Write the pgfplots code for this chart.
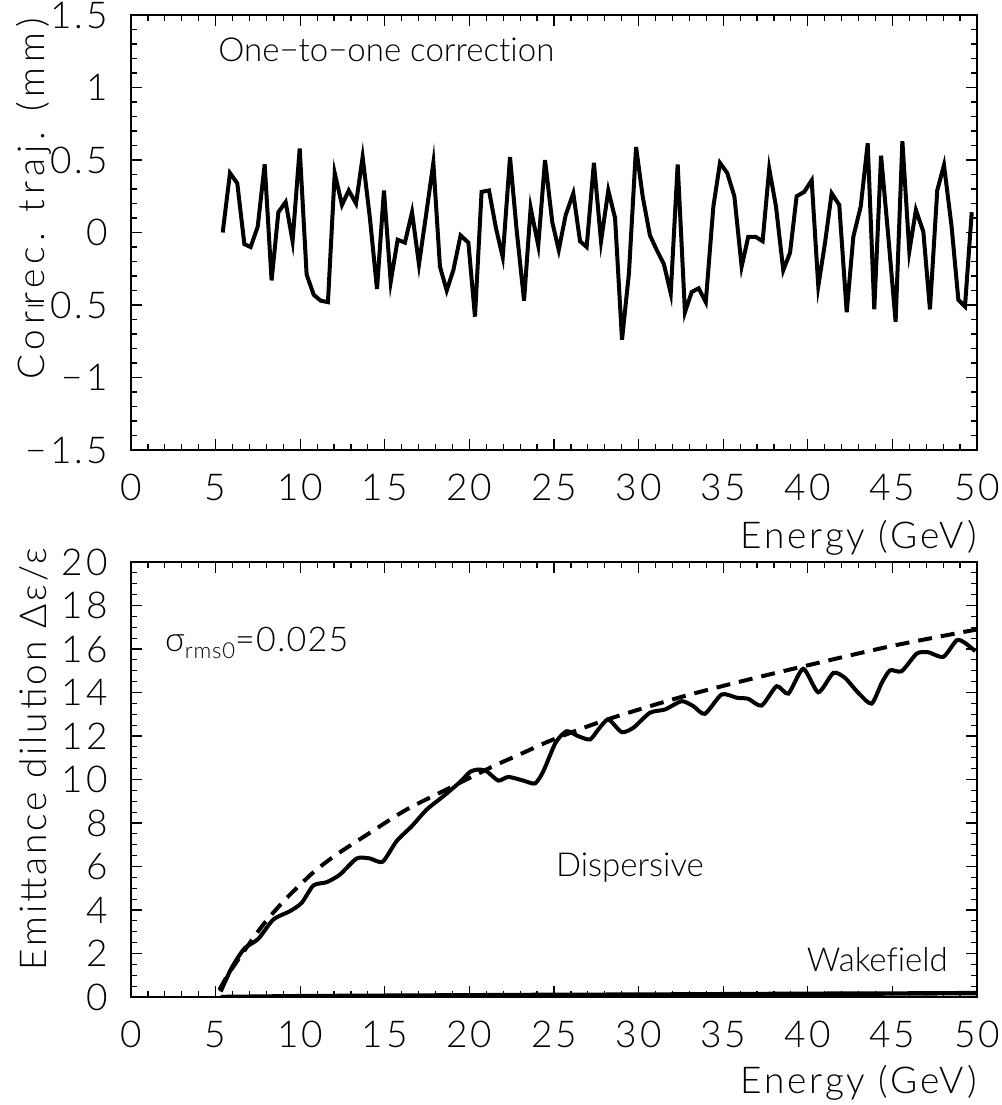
\documentclass[border=0pt]{standalone}
\usepackage{fontspec}
\IfFontExistsTF{Lato Light}{%
  \setmainfont{Lato Light}[Ligatures=NoCommon]%
  \newfontfamily\lab{Lato Light}[LetterSpace=8]%
  \newfontfamily\labw{Lato Light}[LetterSpace=14]%
  \newfontfamily\ann{Lato Light}[LetterSpace=4]%
}{%
  \setmainfont{Lato}[Ligatures=NoCommon]%
  \newfontfamily\lab{Lato}[LetterSpace=8]%
  \newfontfamily\labw{Lato}[LetterSpace=14]%
  \newfontfamily\ann{Lato}[LetterSpace=4]%
}
\usepackage{pgfplots}
\usepackage{pgfplotstable}
\pgfplotsset{compat=1.18}

\pgfplotstableread{
x y
5.42 0.00
5.85 0.41
6.28 0.34
6.70 -0.08
7.07 -0.10
7.49 0.04
7.90 0.47
8.31 -0.33
8.71 0.14
9.14 0.21
9.55 -0.06
9.97 0.58
10.38 -0.29
10.80 -0.43
11.21 -0.47
11.64 -0.48
12.04 0.41
12.47 0.19
12.87 0.29
13.30 0.20
13.69 0.52
14.12 0.10
14.54 -0.39
14.95 0.29
15.35 -0.34
15.76 -0.05
16.19 -0.07
16.61 0.14
17.02 -0.22
17.45 0.13
17.87 0.48
18.26 -0.235
18.66 -0.40
19.05 -0.26
19.48 -0.02
19.94 -0.07
20.33 -0.58
20.72 0.28
21.16 0.29
21.57 0.03
21.97 -0.17
22.40 0.52
22.79 0.02
23.23 -0.47
23.62 0.17
24.07 -0.09
24.47 0.50
24.90 0.07
25.28 -0.12
25.69 0.12
26.14 0.27
26.54 -0.06
26.93 -0.10
27.36 0.48
27.78 -0.06
28.21 0.29
28.61 0.10
29.02 -0.74
29.43 -0.28
29.85 0.59
30.24 0.25
30.67 -0.02
31.07 -0.12
31.50 -0.22
31.90 -0.42
32.31 0.47
32.74 -0.55
33.14 -0.41
33.55 -0.385
33.97 -0.48
34.42 0.18
34.81 0.48
35.24 0.41
35.66 0.25
36.09 -0.235
36.48 -0.03
36.92 -0.03
37.33 -0.06
37.72 0.44
38.12 0.18
38.55 -0.26
38.95 -0.14
39.34 0.25
39.79 0.28
40.23 0.36
40.62 -0.37
41.02 -0.07
41.41 0.27
41.86 0.19
42.30 -0.55
42.69 -0.03
43.13 0.18
43.54 0.615
43.93 -0.53
44.33 0.53
44.76 -0.03
45.19 -0.615
45.59 0.63
46.00 -0.13
46.39 0.155
46.83 0.005
47.22 -0.53
47.65 0.29
48.05 0.465
48.50 0.04
48.90 -0.465
49.29 -0.51
49.69 0.14
}\correc

\pgfplotstableread{
x y
5.22 0.32
5.85 1.17
7.43 2.93
8.21 3.70
9.20 4.55
10.18 5.30
10.97 5.86
12.15 6.55
14.12 7.55
16.29 8.62
18.85 9.62
21.22 10.54
23.19 11.23
24.96 11.84
28.11 12.75
32.45 13.78
36.00 14.50
39.73 15.20
44.85 16.12
50.00 16.90
}\dispfit

\pgfplotstableread{
x y
5.30 0.25
5.85 1.19
6.24 1.72
6.74 2.26
7.52 2.67
8.41 3.56
9.40 3.95
10.09 4.33
10.78 5.13
11.57 5.28
12.35 5.63
13.34 6.37
14.12 6.37
14.87 6.22
15.70 7.17
16.59 7.85
17.48 8.62
18.46 9.23
19.44 9.88
20.04 10.35
20.53 10.46
21.02 10.38
21.71 9.95
22.30 10.12
23.19 9.95
23.88 9.82
24.37 10.38
25.10 11.70
25.75 12.22
26.44 11.99
27.13 11.84
27.62 12.30
28.21 12.76
29.00 12.18
29.69 12.38
30.67 13.07
31.56 13.22
32.55 13.60
33.24 13.37
33.92 13.02
34.91 13.91
35.80 13.76
36.48 13.71
37.27 13.40
38.16 14.29
38.85 13.95
39.73 15.09
40.62 14.01
41.51 14.90
42.20 14.67
42.99 13.98
43.77 13.49
44.37 14.44
44.86 15.02
45.55 14.98
46.44 15.79
47.12 15.85
48.01 15.64
48.80 16.40
49.29 16.28
49.90 15.90
}\disp

\pgfplotstableread{
x y
5.30 0.00
10 0.04
15 0.06
20 0.08
25 0.10
30 0.11
35 0.13
40 0.15
45 0.16
50 0.18
}\wake

\pgfplotsset{
  paw/.style={
    scale only axis, width=423pt, height=217.5pt,
    xmin=0, xmax=50, xtick={0,5,...,50}, minor x tick num=4,
    tick align=inside,
    major tick length=5.5pt, minor tick length=3pt,
    every tick/.style={black, line width=0.6pt},
    axis line style={line width=1.3pt},
    tick label style={font=\lab\fontsize{18.5}{22}\selectfont},
    label style={font=\lab\fontsize{18.5}{22}\selectfont},
    xticklabel style={anchor=base, inner sep=0pt, yshift=-25pt},
    yticklabel style={anchor=east, inner sep=0pt, xshift=-11.5pt},
    /pgf/number format/assume math mode=true,
    xlabel={Energy (GeV)},
  }
}

\begin{document}
\fontsize{16.5}{20}\selectfont
\begin{tikzpicture}
\path[use as bounding box] (-65.5pt,-327.5pt) rectangle (435.5pt,225pt);
\begin{axis}[paw,
  at={(0,0)}, anchor=south west,
  ymin=-1.5, ymax=1.5,
  ytick={-1.5,-1,-0.5,0,0.5,1,1.5},
  yticklabels={−1.5,−1,−0.5,0,0.5,1,1.5},
  minor y tick num=4,
  xlabel style={at={(rel axis cs:1,-0.2253)}, anchor=base east, inner sep=0pt},
  ylabel={Correc. traj. (mm)},
  ylabel style={font=\labw\fontsize{18.5}{22}\selectfont, at={(rel axis cs:-0.1017,0.993)}, anchor=base east, inner sep=0pt},
]
\addplot[black, line width=2pt] table[x=x, y=y] {\correc};
\node[anchor=base west, inner sep=0pt] at (axis cs:5.14,1.18) {One−to−one correction};
\end{axis}
\begin{axis}[paw,
  at={(0,-273.5pt)}, anchor=south west,
  ymin=0, ymax=20,
  ytick={0,2,...,20},
  minor y tick num=3,
  xlabel style={at={(rel axis cs:1,-0.2207)}, anchor=base east, inner sep=0pt},
  ylabel={Emittance dilution Δε/ε},
  ylabel style={font=\lab\fontsize{18.5}{22}\selectfont, at={(rel axis cs:-0.0993,1.034)}, anchor=base east, inner sep=0pt},
]
\addplot[black, line width=2pt, dash pattern=on 7pt off 4.5pt, smooth, tension=0.5] table[x=x, y=y] {\dispfit};
\addplot[black, line width=2pt, smooth, tension=0.4] table[x=x, y=y] {\disp};
\addplot[black, line width=2.2pt] table[x=x, y=y] {\wake};
\node[anchor=base west, inner sep=0pt, font=\ann\fontsize{17}{20}\selectfont] at (axis cs:2.0,15.9) {σ\raisebox{-0.45ex}{\fontsize{11}{12}\selectfont rms0}=0.025};
\node[anchor=base west, inner sep=0pt] at (axis cs:25.1,5.54) {Dispersive};
\node[anchor=base east, inner sep=0pt] at (axis cs:48.3,1.17) {Wakefield};
\end{axis}
\end{tikzpicture}
\end{document}
